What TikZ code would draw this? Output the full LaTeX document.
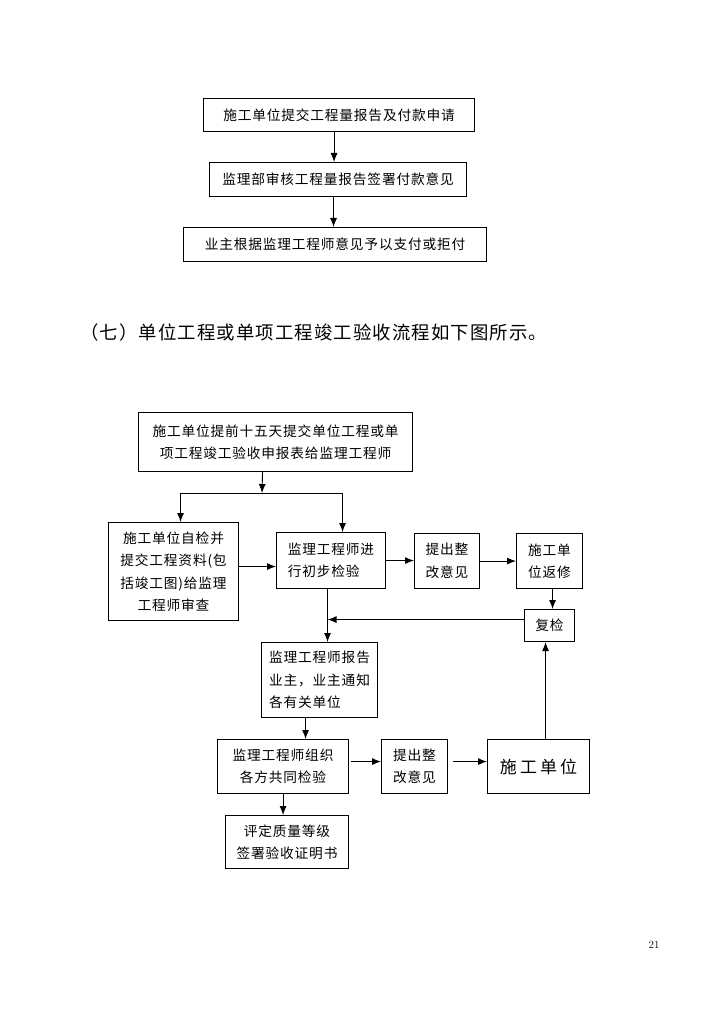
\documentclass[tikz,border=0pt]{standalone}
\usepackage{fontspec}
\usetikzlibrary{arrows.meta}
\newfontfamily\cjk[LetterSpace=6]{Noto Sans CJK SC}
\newfontfamily\cjkwide[LetterSpace=18]{Noto Sans CJK SC}

\begin{document}
\begin{tikzpicture}[x=1pt, y=-1pt,
  box/.style={draw, line width=1.1pt, anchor=north west, inner sep=0pt, align=center,
    font=\cjk\fontsize{13.7}{22.5}\selectfont},
  arr/.style={line width=0.9pt, -{Latex[length=9pt,width=7pt]}}]
\useasboundingbox (0,0) rectangle (725,1024);

% payment flow
\node[box, minimum width=271pt, minimum height=33pt] (payreq) at (203,98) {施工单位提交工程量报告及付款申请};
\node[box, minimum width=257pt, minimum height=34pt] (paychk) at (209,162) {监理部审核工程量报告签署付款意见};
\node[box, minimum width=303pt, minimum height=34pt] (paydo) at (183,227) {业主根据监理工程师意见予以支付或拒付};
\coordinate (p1) at ([xshift=-5pt]payreq.south);
\draw[arr] (p1) -- (p1 |- paychk.north);
\coordinate (p2) at ([xshift=-4.5pt]paychk.south);
\draw[arr] (p2) -- (p2 |- paydo.north);

\node[anchor=west, inner sep=0pt, font=\cjk\fontsize{18.4}{24}\selectfont] (title) at (80,333)
  {（七）单位工程或单项工程竣工验收流程如下图所示。};

% acceptance flow
\node[box, minimum width=274pt, minimum height=59pt] (apply) at (138,412)
  {施工单位提前十五天提交单位工程或单\\项工程竣工验收申报表给监理工程师};
\node[box, minimum width=130pt, minimum height=98pt] (self) at (108,522)
  {施工单位自检并\\提交工程资料(包\\括竣工图)给监理\\工程师审查};
\node[box, minimum width=109pt, minimum height=56pt, align=left] (pre) at (276,532)
  {监理工程师进\\行初步检验};
\node[box, minimum width=65pt, minimum height=55pt] (fix1) at (414,533) {提出整\\改意见};
\node[box, minimum width=66pt, minimum height=55pt] (repair) at (516,533) {施工单\\位返修};
\node[box, minimum width=50pt, minimum height=32pt] (recheck) at (524,609) {复检};
\node[box, minimum width=116pt, minimum height=75pt, align=left] (report) at (261,642)
  {监理工程师报告\\业主，业主通知\\各有关单位};
\node[box, minimum width=131pt, minimum height=54pt] (joint) at (217,739)
  {监理工程师组织\\各方共同检验};
\node[box, minimum width=66pt, minimum height=54pt] (fix2) at (381,739) {提出整\\改意见};
\node[box, minimum width=102pt, minimum height=54pt, font=\cjkwide\fontsize{17}{22}\selectfont] (builder) at (487,739) {施工单位};
\node[box, minimum width=123pt, minimum height=53pt] (grade) at (225,815)
  {评定质量等级\\签署验收证明书};

\coordinate (split) at (262,493);
\draw[arr] ([xshift=-13pt]apply.south) -- (split);
\draw[arr] (split) -| ([xshift=7pt]self.north);
\draw[arr] (split) -| ([xshift=11.5pt]pre.north);

\coordinate (sc) at ([yshift=5pt]self.east);
\draw[arr] (sc) -- (sc -| pre.west);
\coordinate (pc) at (pre.east);
\draw[arr] (pc) -- (pc -| fix1.west);
\coordinate (fc) at (fix1.east);
\draw[arr] (fc) -- (fc -| repair.west);
\coordinate (rc) at ([xshift=3pt]repair.south);
\draw[arr] (rc) -- (rc |- recheck.north);

\coordinate (down) at ([xshift=-3.5pt]pre.south);
\draw[arr] (down) -- (down |- report.north);
\coordinate (back) at ([yshift=6pt]recheck.west);
\draw[arr] (back) -- (back -| down);

\coordinate (rj) at ([xshift=-14pt]report.south);
\draw[arr] (rj) -- (rj |- joint.north);
\coordinate (jf) at ([xshift=2pt,yshift=5pt]joint.east);
\draw[arr] (jf) -- (jf -| fix2.west);
\coordinate (fb) at ([xshift=5pt,yshift=5pt]fix2.east);
\draw[arr] (fb) -- (fb -| builder.west);
\coordinate (br) at ([xshift=7pt]builder.north);
\draw[arr] (br) -- (br |- recheck.south);
\draw[arr] (joint.south) -- (joint.south |- grade.north);

\node[font=\fontsize{11}{13}\selectfont] (pnum) at (654,945) {21};
\end{tikzpicture}
\end{document}
